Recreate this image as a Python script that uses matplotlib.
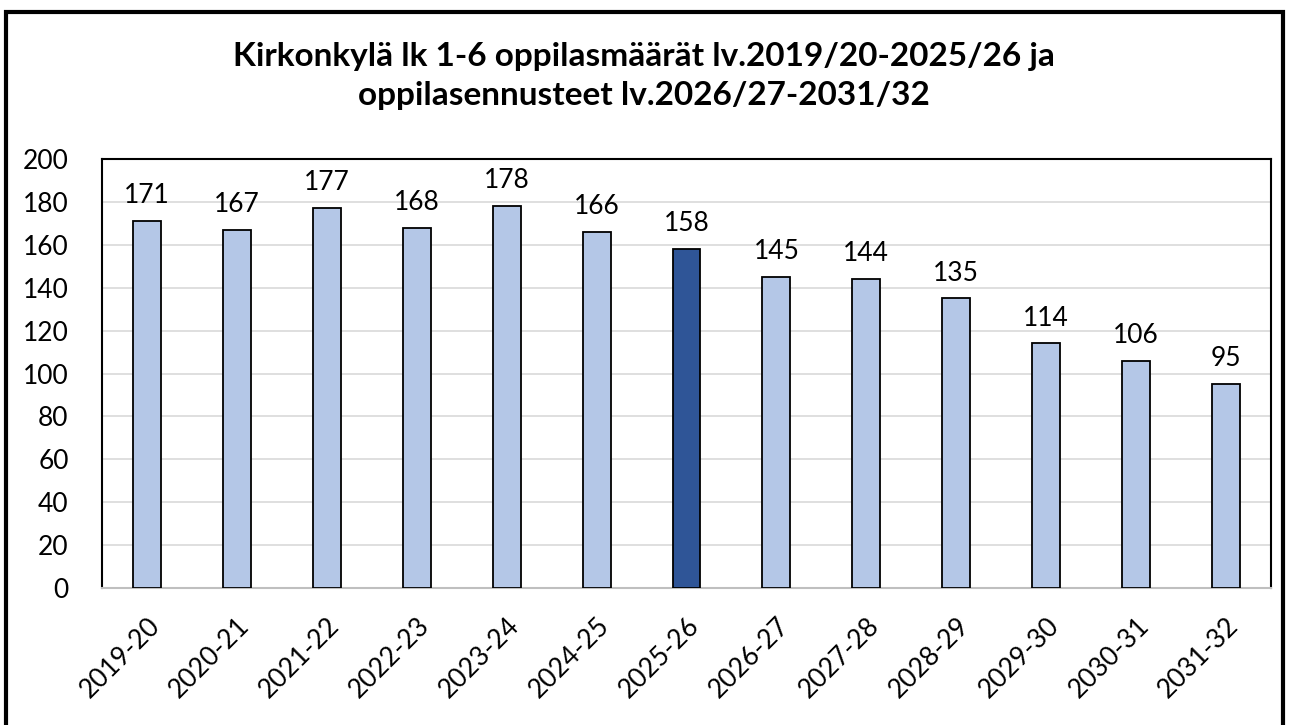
import matplotlib.pyplot as plt
from matplotlib.patches import Rectangle

# Lukuvuodet ja oppilasmäärät
years = ["2019-20", "2020-21", "2021-22", "2022-23", "2023-24", "2024-25", "2025-26",
         "2026-27", "2027-28", "2028-29", "2029-30", "2030-31", "2031-32"]
students = [171, 167, 177, 168, 178, 166, 158, 145, 144, 135, 114, 106, 95]
current_year = "2025-26"

title = "Kirkonkylä lk 1-6 oppilasmäärät lv.2019/20-2025/26 ja\noppilasennusteet lv.2026/27-2031/32"

plt.rcParams['font.family'] = ['Lato', 'DejaVu Sans']

fig = plt.figure(figsize=(12.89, 7.25), dpi=100)
ax = fig.add_axes([102 / 1289, 1 - 588 / 725, (1271 - 102) / 1289, (588 - 159) / 725])

colors = ['#2F5597' if y == current_year else '#B4C7E7' for y in years]
x = range(len(years))
bars = ax.bar(x, students, width=0.31, color=colors, edgecolor='black', linewidth=1.3, zorder=3)

for b, v in zip(bars, students):
    ax.text(b.get_x() + b.get_width() / 2, v + 6, str(v), ha='center', va='bottom', fontsize=19)

ax.set_xlim(-0.5, len(years) - 0.5)
ax.set_ylim(0, 200)
ax.set_yticks(range(0, 201, 20))
ax.tick_params(axis='y', labelsize=19, length=0, pad=24)
ax.set_xticks(list(x))
ax.set_xticklabels(years, rotation=45, ha='right', rotation_mode='anchor', fontsize=19)
ax.tick_params(axis='x', length=0, pad=18)

ax.grid(axis='y', color='#D9D9D9', linewidth=1.2, zorder=0)
for s in ['left', 'top', 'right']:
    ax.spines[s].set_color('black')
    ax.spines[s].set_linewidth(1.5)
ax.spines['bottom'].set_color('#BFBFBF')
ax.spines['bottom'].set_linewidth(1.5)

fig.text(644 / 1289, 1 - 76 / 725, title, ha='center', va='center', fontsize=24,
         fontweight='bold', linespacing=1.45)

# ulkoreunus
fig.patches.append(Rectangle((6 / 1289, -0.01), (1283 - 6) / 1289, 1 - 12 / 725 + 0.01,
                             transform=fig.transFigure, fill=False, edgecolor='black',
                             linewidth=3))

fig.savefig("out.png", dpi=100)
